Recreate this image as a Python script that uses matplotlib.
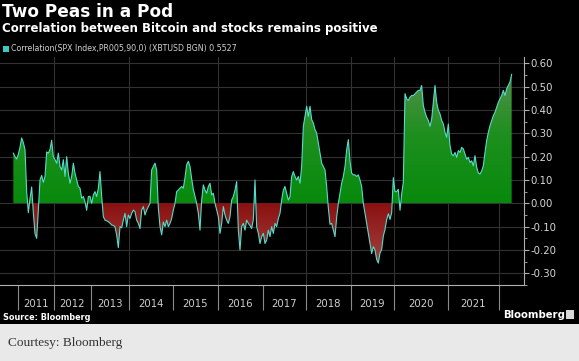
import numpy as np
import matplotlib
matplotlib.use("Agg")
import matplotlib.pyplot as plt
from matplotlib.path import Path
from matplotlib.patches import PathPatch, Rectangle
from matplotlib.colors import LinearSegmentedColormap
from matplotlib.ticker import MultipleLocator, FormatStrFormatter

plt.rcParams['axes.unicode_minus'] = False
plt.rcParams['font.family'] = ['DejaVu Sans']

# ---------------- data ----------------
years = ['2010', '2011', '2012', '2013', '2014', '2015', '2016',
         '2017', '2018', '2019', '2020', '2021', '2022']

v2010 = [0.215, 0.20, 0.19]
v2011 = [0.21, 0.24, 0.28, 0.26, 0.23, 0.05, -0.04, 0.02, 0.07, -0.04, -0.13,
         -0.15, -0.03, 0.10, 0.12, 0.09, 0.115, 0.22, 0.215, 0.23, 0.27, 0.20]
v2012 = [0.187, 0.172, 0.215, 0.158, 0.143, 0.187, 0.115, 0.20, 0.129, 0.086,
         0.115, 0.172, 0.129, 0.10, 0.072, 0.065, 0.022, 0.029, 0.007, -0.03,
         0.029, 0.03]
v2013 = [0.0, 0.036, 0.05, 0.029, 0.065, 0.136, 0.03, -0.057, -0.072, -0.075,
         -0.079, -0.085, -0.093, -0.095, -0.10, -0.136, -0.19, -0.10, -0.105,
         -0.072, -0.043, -0.10, -0.05]
v2014 = [-0.065, -0.043, -0.029, -0.036, -0.072, -0.086, -0.108, -0.029,
         -0.014, -0.05, -0.029, -0.014, 0.0, 0.143, 0.158, 0.172, 0.143, -0.02,
         -0.10, -0.135, -0.08, -0.10, -0.072, -0.10, -0.086, -0.065]
v2015 = [-0.029, 0.0, 0.05, 0.057, 0.065, 0.072, 0.065, 0.11, 0.165, 0.18,
         0.158, 0.105, 0.06, 0.029, 0.0, -0.043, -0.115, 0.014, 0.079, 0.057,
         0.043, 0.072, 0.086, 0.036, 0.043, 0.0, -0.029]
v2016 = [-0.057, -0.129, -0.086, -0.014, -0.05, -0.072, -0.086, -0.057, 0.014,
         0.029, 0.057, 0.093, -0.115, -0.20, -0.10, -0.086, -0.115, -0.072,
         -0.086, -0.095, -0.108, -0.07, 0.10, -0.10, -0.129, -0.172, -0.143]
v2017 = [-0.129, -0.172, -0.158, -0.115, -0.143, -0.10, -0.129, -0.086, -0.10,
         -0.065, -0.043, 0.014, 0.057, 0.072, 0.043, 0.014, 0.029, 0.115, 0.136,
         0.115, 0.10, 0.115, 0.086, 0.158, 0.33, 0.373]
v2018 = [0.416, 0.373, 0.416, 0.359, 0.344, 0.316, 0.301, 0.258, 0.215, 0.172,
         0.158, 0.143, 0.072, -0.02, -0.09, -0.086, -0.115, -0.143, -0.06, 0.0,
         0.043, 0.086, 0.115, 0.158, 0.229, 0.273, 0.18]
v2019 = [0.129, 0.122, 0.122, 0.115, 0.122, 0.10, 0.072, 0.0, -0.043, -0.086,
         -0.129, -0.172, -0.215, -0.186, -0.20, -0.241, -0.256, -0.213, -0.198,
         -0.14, -0.112, -0.07, -0.045, -0.069, -0.04, 0.11]
v2020 = [0.05, 0.05, 0.06, -0.03, 0.04, 0.09, 0.47, 0.448, 0.441, 0.455, 0.462,
         0.462, 0.469, 0.477, 0.484, 0.484, 0.505, 0.419, 0.390, 0.369, 0.355,
         0.33, 0.36, 0.433, 0.505, 0.433, 0.398, 0.383, 0.355, 0.340, 0.304,
         0.283]
v2021 = [0.340, 0.247, 0.211, 0.204, 0.218, 0.197, 0.226, 0.218, 0.240, 0.233,
         0.211, 0.189, 0.197, 0.175, 0.182, 0.161, 0.204, 0.155, 0.13, 0.125,
         0.139, 0.161, 0.218, 0.269, 0.304, 0.333, 0.355, 0.376, 0.390, 0.412,
         0.433]
v2022 = [0.448, 0.462, 0.484, 0.462, 0.491, 0.505, 0.52, 0.5527]

year_values = [v2010, v2011, v2012, v2013, v2014, v2015, v2016,
               v2017, v2018, v2019, v2020, v2021, v2022]

y_ticks = [-0.30, -0.20, -0.10, 0.00, 0.10, 0.20, 0.30, 0.40, 0.50, 0.60]

title = "Two Peas in a Pod"
subtitle = "Correlation between Bitcoin and stocks remains positive"
legend_label = "Correlation(SPX Index,PR005,90,0) (XBTUSD BGN) 0.5527"
source = "Source: Bloomberg"
brand = "Bloomberg"
courtesy = "Courtesy: Bloomberg"

# ---------------- derived ----------------
values = np.concatenate([np.asarray(v, float) for v in year_values])
x = np.arange(len(values))
counts = [len(v) for v in year_values]
starts = np.cumsum([0] + counts[:-1])
seps = starts[1:] - 0.5                     # boundaries 2011 ... 2022
centers = (seps[:-1] + seps[1:]) / 2        # label positions 2011 ... 2021
label_years = years[1:-1]

# ---------------- figure ----------------
W, H = 579, 361
fig = plt.figure(figsize=(W / 100, H / 100), dpi=100)
fig.patch.set_facecolor('#e9e9e9')
fig.add_artist(Rectangle((0, (H - 324) / H), 1, 324 / H, transform=fig.transFigure,
                         facecolor='black', edgecolor='none', zorder=0))

ax = fig.add_axes([0, 1 - 285 / H, 524 / W, 228 / H])
ax.set_facecolor('black')

XL = (-8, 306.4)
YL = (-0.350, 0.627)

# grid
for t in y_ticks:
    ax.axhline(t, color='#323232', lw=0.8, zorder=0.5)
for i in [1, 3, 5, 7, 8, 9, 10, 11]:
    ax.axvline(seps[i], color='#323232', lw=0.8, zorder=0.5)

# gradient fills
grad = np.linspace(0, 1, 256).reshape(-1, 1)

pos = ax.fill_between(x, 0, values, where=values >= 0, interpolate=True,
                      facecolor='none', edgecolor='none')
ppath = Path.make_compound_path(*pos.get_paths())
ppatch = PathPatch(ppath, transform=ax.transData, facecolor='none', edgecolor='none')
ax.add_patch(ppatch)
cmap_g = LinearSegmentedColormap.from_list('g', ['#078a0c', '#1f8f1f', '#5f8f55'])
img = ax.imshow(grad, extent=[x[0] - 1, x[-1] + 1, 0, 0.6], origin='lower',
                aspect='auto', cmap=cmap_g, zorder=1, interpolation='bilinear')
img.set_clip_path(ppatch)

neg = ax.fill_between(x, 0, values, where=values <= 0, interpolate=True,
                      facecolor='none', edgecolor='none')
npath = Path.make_compound_path(*neg.get_paths())
npatch = PathPatch(npath, transform=ax.transData, facecolor='none', edgecolor='none')
ax.add_patch(npatch)
cmap_r = LinearSegmentedColormap.from_list('r', ['#a84848', '#8a1010'])
imr = ax.imshow(grad, extent=[x[0] - 1, x[-1] + 1, -0.3, 0], origin='lower',
                aspect='auto', cmap=cmap_r, zorder=1, interpolation='bilinear')
imr.set_clip_path(npatch)

ax.plot(x, values, color='#55dccc', lw=0.8, zorder=3)

ax.set_xlim(*XL)
ax.set_ylim(*YL)

# spines
for s in ['top', 'left']:
    ax.spines[s].set_visible(False)
for s in ['right', 'bottom']:
    ax.spines[s].set_color('#b0b0b0')
    ax.spines[s].set_linewidth(0.8)

# y axis on right
ax.yaxis.tick_right()
ax.set_yticks(y_ticks)
ax.yaxis.set_major_formatter(FormatStrFormatter('%.2f'))
ax.yaxis.set_minor_locator(MultipleLocator(0.05))
ax.tick_params(axis='y', which='major', direction='out', length=3.5, width=0.8,
               color='#b0b0b0', labelcolor='#d8d8d8', labelsize=7.3, pad=1)
ax.tick_params(axis='y', which='minor', direction='out', length=2, width=0.6,
               color='#b0b0b0')

# x axis: separators + centered year labels
ax.set_xticks(seps)
ax.set_xticklabels([''] * len(seps))
ax.set_xticks(centers, minor=True)
ax.set_xticklabels(label_years, minor=True)
ax.tick_params(axis='x', which='major', direction='out', length=18, width=0.8,
               color='#8a8a8a')
ax.tick_params(axis='x', which='minor', length=0, pad=10, labelsize=7.3,
               labelcolor='#cfcfcf')

# texts
fig.text(2 / W, 1 - 12 / H, title, fontsize=12.2, fontweight='bold', color='white',
         va='center', ha='left')
fig.text(2 / W, 1 - 28.5 / H, subtitle, fontsize=8.5, fontweight='bold', color='white',
         va='center', ha='left')
fig.add_artist(Rectangle((3 / W, 1 - 51.5 / H), 6 / W, 6 / H, transform=fig.transFigure,
                         facecolor='#3cc8c0', edgecolor='none'))
fig.text(11 / W, 1 - 48.5 / H, legend_label, fontsize=5.7, color='#d0d0d0',
         va='center', ha='left')
fig.text(3 / W, 1 - 318 / H, source, fontsize=5.9, fontweight='bold', color='white',
         va='center', ha='left')
fig.text(503 / W, 1 - 314.5 / H, brand, fontsize=7.3, fontweight='bold', color='white',
         va='center', ha='left')
fig.add_artist(Rectangle((566 / W, 1 - 319 / H), 8 / W, 9 / H, transform=fig.transFigure,
                         facecolor='#d8d8d8', edgecolor='none'))
fig.text(8 / W, 1 - 343 / H, courtesy, fontsize=9.5, family='Liberation Serif',
         color='#333333', va='center', ha='left')

fig.savefig('out.png', dpi=100, facecolor=fig.get_facecolor())
